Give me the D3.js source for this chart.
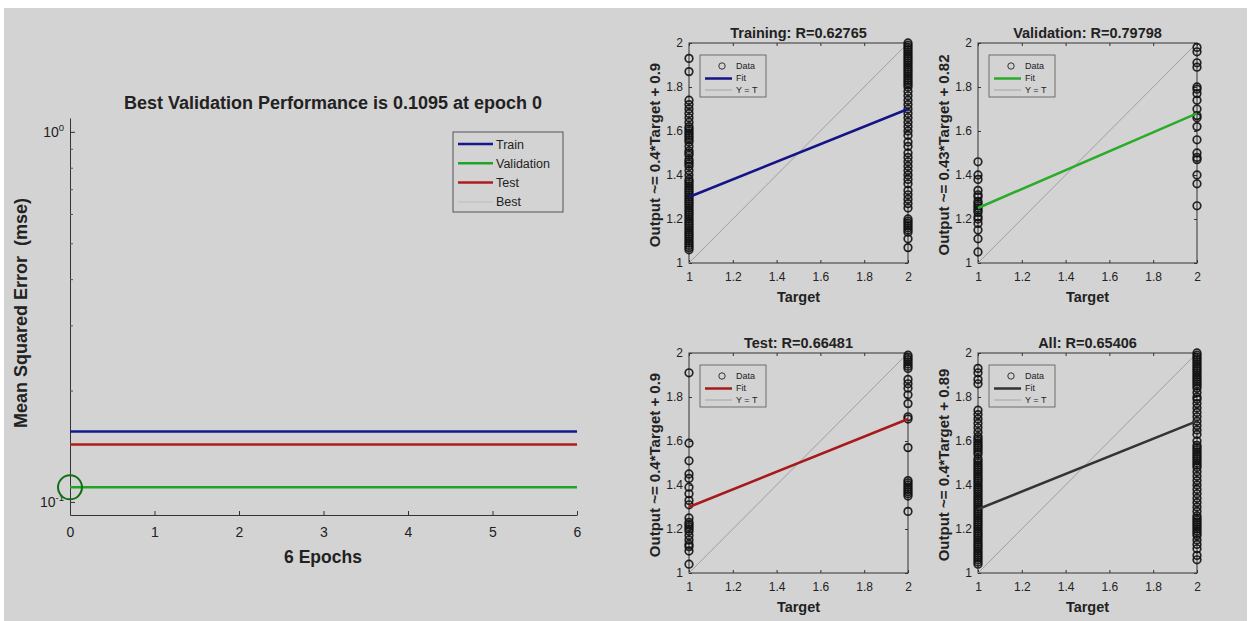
<!DOCTYPE html>
<html>
<head>
<meta charset="utf-8">
<script src="https://cdn.jsdelivr.net/npm/d3@7"></script>
<style>
body { margin: 0; background: #fff; }
text { font-family: "Liberation Sans", Arial, sans-serif; fill: #222; }
</style>
</head>
<body>
<svg id="chart" width="1252" height="621"></svg>
<script>
// performance plot
var epochs = [0, 1, 2, 3, 4, 5, 6];
var trainPerf = [0.155, 0.155, 0.155, 0.155, 0.155, 0.155, 0.155];
var validationPerf = [0.1095, 0.1095, 0.1095, 0.1095, 0.1095, 0.1095, 0.1095];
var testPerf = [0.143, 0.143, 0.143, 0.143, 0.143, 0.143, 0.143];
var bestEpoch = 0;
var bestPerf = 0.1095;
var perfNames = ["Train", "Validation", "Test", "Best"];

// regression plots
var panelTitles = ["Training: R=0.62765", "Validation: R=0.79798", "Test: R=0.66481", "All: R=0.65406"];
var panelYLabels = ["Output ~= 0.4*Target + 0.9", "Output ~= 0.43*Target + 0.82", "Output ~= 0.4*Target + 0.9", "Output ~= 0.4*Target + 0.89"];
var fitSlopes = [0.4, 0.43, 0.4, 0.4];
var fitIntercepts = [0.9, 0.82, 0.9, 0.89];
var targetTicks = [1, 1.2, 1.4, 1.6, 1.8, 2];

var trainingT1 = [1.93, 1.87, 1.74, 1.72, 1.70, 1.68, 1.66, 1.64, 1.62, 1.61, 1.60, 1.59, 1.58, 1.57, 1.56, 1.55, 1.53, 1.51, 1.50, 1.49, 1.47, 1.46, 1.45, 1.44, 1.42, 1.40, 1.38, 1.37, 1.36, 1.35, 1.34, 1.33, 1.32, 1.31, 1.30, 1.29, 1.28, 1.27, 1.26, 1.25, 1.24, 1.23, 1.22, 1.21, 1.20, 1.19, 1.18, 1.17, 1.16, 1.15, 1.14, 1.13, 1.12, 1.11, 1.10, 1.09, 1.08, 1.07, 1.06];
var trainingT2 = [2.00, 1.99, 1.98, 1.97, 1.96, 1.95, 1.94, 1.93, 1.92, 1.91, 1.90, 1.89, 1.88, 1.87, 1.86, 1.85, 1.84, 1.83, 1.82, 1.81, 1.80, 1.78, 1.76, 1.74, 1.72, 1.70, 1.68, 1.66, 1.64, 1.62, 1.60, 1.58, 1.55, 1.53, 1.50, 1.48, 1.46, 1.44, 1.42, 1.40, 1.38, 1.36, 1.33, 1.31, 1.29, 1.27, 1.25, 1.20, 1.19, 1.18, 1.17, 1.16, 1.15, 1.14, 1.11, 1.07];
var validationT1 = [1.46, 1.40, 1.38, 1.33, 1.31, 1.30, 1.28, 1.27, 1.26, 1.25, 1.24, 1.23, 1.21, 1.20, 1.18, 1.15, 1.11, 1.05];
var validationT2 = [1.98, 1.96, 1.91, 1.89, 1.80, 1.79, 1.77, 1.74, 1.70, 1.67, 1.66, 1.62, 1.56, 1.50, 1.48, 1.47, 1.40, 1.36, 1.26];
var testT1 = [1.91, 1.59, 1.51, 1.45, 1.43, 1.39, 1.36, 1.33, 1.31, 1.25, 1.23, 1.22, 1.21, 1.20, 1.19, 1.17, 1.15, 1.13, 1.12, 1.10, 1.04];
var testT2 = [1.99, 1.98, 1.97, 1.96, 1.95, 1.94, 1.93, 1.88, 1.86, 1.84, 1.81, 1.77, 1.71, 1.70, 1.57, 1.42, 1.41, 1.40, 1.39, 1.38, 1.37, 1.36, 1.35, 1.28];
var allT1 = [1.93, 1.91, 1.88, 1.86, 1.74, 1.72, 1.70, 1.68, 1.66, 1.64, 1.62, 1.61, 1.60, 1.59, 1.58, 1.57, 1.56, 1.55, 1.54, 1.52, 1.51, 1.50, 1.49, 1.48, 1.47, 1.46, 1.45, 1.44, 1.43, 1.42, 1.41, 1.40, 1.39, 1.38, 1.37, 1.36, 1.35, 1.34, 1.33, 1.32, 1.31, 1.30, 1.29, 1.28, 1.27, 1.26, 1.25, 1.24, 1.23, 1.22, 1.21, 1.20, 1.19, 1.18, 1.17, 1.16, 1.15, 1.14, 1.13, 1.12, 1.11, 1.10, 1.09, 1.08, 1.07, 1.06, 1.05, 1.04];
var allT2 = [2.00, 1.99, 1.98, 1.97, 1.96, 1.95, 1.94, 1.93, 1.92, 1.91, 1.90, 1.89, 1.88, 1.87, 1.86, 1.85, 1.84, 1.82, 1.80, 1.79, 1.77, 1.75, 1.73, 1.71, 1.69, 1.67, 1.65, 1.63, 1.60, 1.58, 1.57, 1.56, 1.55, 1.54, 1.53, 1.52, 1.51, 1.50, 1.49, 1.48, 1.46, 1.44, 1.42, 1.40, 1.38, 1.36, 1.34, 1.32, 1.30, 1.28, 1.26, 1.25, 1.24, 1.23, 1.22, 1.21, 1.20, 1.19, 1.18, 1.17, 1.15, 1.13, 1.11, 1.08, 1.06];

var bg = "#d3d3d3";
var perfColors = ["#101a8c", "#1fa525", "#b01c1c", "#bdbdbd"];
var fitColors = ["#141486", "#2aab2a", "#a81a1a", "#333333"];
var fontFam = "Liberation Sans, Arial, sans-serif";

var svg = d3.select("#chart");
svg.append("rect").attr("x", 4).attr("y", 8).attr("width", 1243).attr("height", 613).attr("fill", bg);

// ---------- left: performance ----------
var x = d3.scaleLinear().domain([0, 6]).range([70, 577]);
var y = d3.scaleLog().domain([0.0922, 1.09]).range([515, 118]);

var perf = svg.append("g");

perf.append("g")
    .attr("transform", "translate(0,515)")
    .call(d3.axisBottom(x).tickValues(epochs).tickSize(-4).tickSizeOuter(0).tickPadding(12).tickFormat(d3.format("d")))
    .call(function (g) {
        g.select(".domain").attr("stroke", "#333");
        g.selectAll(".tick line").attr("stroke", "#333");
        g.selectAll("text").attr("font-size", 14).attr("fill", "#333").attr("font-family", fontFam);
    });

perf.append("g")
    .attr("transform", "translate(70,0)")
    .call(d3.axisLeft(y).tickValues([0.1, 1]).tickSize(-5).tickSizeOuter(0).tickFormat(""))
    .call(function (g) {
        g.select(".domain").attr("stroke", "#333");
        g.selectAll(".tick line").attr("stroke", "#333");
    });

perf.append("g")
    .attr("transform", "translate(70,0)")
    .call(d3.axisLeft(y).tickValues([0.2, 0.3, 0.4, 0.5, 0.6, 0.7, 0.8, 0.9]).tickSize(-3).tickFormat(""))
    .call(function (g) {
        g.select(".domain").remove();
        g.selectAll(".tick line").attr("stroke", "#555");
    });

[[0.1, "-1"], [1, "0"]].forEach(function (t) {
    var lbl = perf.append("text")
        .attr("x", 64)
        .attr("y", y(t[0]) + 5)
        .attr("text-anchor", "end")
        .attr("font-size", 14)
        .attr("fill", "#333");
    lbl.append("tspan").text("10");
    lbl.append("tspan").attr("dy", -6).attr("font-size", 9.5).text(t[1]);
});

var perfLine = d3.line()
    .x(function (d, i) { return x(epochs[i]); })
    .y(function (d) { return y(d); });

[trainPerf, validationPerf, testPerf].forEach(function (series, i) {
    perf.append("path")
        .datum(series)
        .attr("d", perfLine)
        .attr("fill", "none")
        .attr("stroke", perfColors[i])
        .attr("stroke-width", 2.5);
});

perf.append("circle")
    .attr("cx", x(bestEpoch))
    .attr("cy", y(bestPerf))
    .attr("r", 12)
    .attr("fill", "none")
    .attr("stroke", "#0f6e14")
    .attr("stroke-width", 2);

perf.append("text")
    .attr("x", 333).attr("y", 109)
    .attr("text-anchor", "middle")
    .attr("font-size", 18).attr("font-weight", "bold")
    .text("Best Validation Performance is 0.1095 at epoch 0");

perf.append("text")
    .attr("x", 323).attr("y", 563)
    .attr("text-anchor", "middle")
    .attr("font-size", 17.5).attr("font-weight", "bold")
    .text("6 Epochs");

perf.append("text")
    .attr("transform", "translate(27,313) rotate(-90)")
    .attr("text-anchor", "middle")
    .attr("font-size", 18).attr("font-weight", "bold")
    .attr("xml:space", "preserve")
    .text("Mean Squared Error  (mse)");

var leg = perf.append("g").attr("transform", "translate(453,132)");
leg.append("rect").attr("width", 110).attr("height", 80).attr("fill", bg).attr("stroke", "#555");
perfNames.forEach(function (name, i) {
    var ly = 12 + i * 19.3;
    leg.append("line")
        .attr("x1", 5).attr("x2", 40).attr("y1", ly).attr("y2", ly)
        .attr("stroke", perfColors[i])
        .attr("stroke-width", i < 3 ? 2.5 : 1);
    leg.append("text")
        .attr("x", 43).attr("y", ly + 4.5)
        .attr("font-size", 12.5).attr("fill", "#333")
        .text(name);
});

// ---------- right: regression panels ----------
var panelData = [
    [trainingT1, trainingT2],
    [validationT1, validationT2],
    [testT1, testT2],
    [allT1, allT2]
];
var panelLefts = [689, 978];
var panelTops = [43, 353];
var pw = 219, ph = 220;

panelData.forEach(function (cols, i) {
    var left = panelLefts[i % 2];
    var top = panelTops[Math.floor(i / 2)];
    var xs = d3.scaleLinear().domain([1, 2]).range([left, left + pw]);
    var ys = d3.scaleLinear().domain([1, 2]).range([top + ph, top]);
    var p = svg.append("g");

    p.append("rect")
        .attr("x", left).attr("y", top).attr("width", pw).attr("height", ph)
        .attr("fill", bg).attr("stroke", "#333");

    // ticks, inward on all four sides
    p.append("g").attr("transform", "translate(0," + (top + ph) + ")")
        .call(d3.axisBottom(xs).tickValues(targetTicks).tickSize(-3).tickSizeOuter(0).tickPadding(9).tickFormat(d3.format("")))
        .call(styleSmall);
    p.append("g").attr("transform", "translate(0," + top + ")")
        .call(d3.axisTop(xs).tickValues(targetTicks).tickSize(-3).tickSizeOuter(0).tickFormat(""))
        .call(styleSmall);
    p.append("g").attr("transform", "translate(" + left + ",0)")
        .call(d3.axisLeft(ys).tickValues(targetTicks).tickSize(-3).tickSizeOuter(0).tickPadding(6).tickFormat(d3.format("")))
        .call(styleSmall);
    p.append("g").attr("transform", "translate(" + (left + pw) + ",0)")
        .call(d3.axisRight(ys).tickValues(targetTicks).tickSize(-3).tickSizeOuter(0).tickFormat(""))
        .call(styleSmall);

    // Y = T
    p.append("line")
        .attr("x1", xs(1)).attr("y1", ys(1)).attr("x2", xs(2)).attr("y2", ys(2))
        .attr("stroke", "#9a9a9a").attr("stroke-width", 0.9);

    // data circles
    [1, 2].forEach(function (t, k) {
        p.selectAll(null)
            .data(cols[k])
            .enter()
            .append("circle")
            .attr("cx", xs(t))
            .attr("cy", function (d) { return ys(d); })
            .attr("r", 3.8)
            .attr("fill", "none")
            .attr("stroke", "#111")
            .attr("stroke-opacity", 0.9)
            .attr("stroke-width", 1.7);
    });

    // fit
    p.append("line")
        .attr("x1", xs(1)).attr("y1", ys(fitSlopes[i] * 1 + fitIntercepts[i]))
        .attr("x2", xs(2)).attr("y2", ys(fitSlopes[i] * 2 + fitIntercepts[i]))
        .attr("stroke", fitColors[i]).attr("stroke-width", 2.5);

    // legend
    var lg = p.append("g").attr("transform", "translate(" + (left + 11) + "," + (top + 12) + ")");
    lg.append("rect").attr("width", 66).attr("height", 42).attr("fill", bg).attr("stroke", "#555").attr("stroke-width", 0.8);
    lg.append("circle").attr("cx", 22).attr("cy", 11).attr("r", 3.2).attr("fill", "none").attr("stroke", "#333");
    lg.append("line").attr("x1", 5).attr("x2", 32).attr("y1", 23.5).attr("y2", 23.5).attr("stroke", fitColors[i]).attr("stroke-width", 2.5);
    lg.append("line").attr("x1", 5).attr("x2", 32).attr("y1", 35).attr("y2", 35).attr("stroke", "#9a9a9a").attr("stroke-width", 0.8);
    ["Data", "Fit", "Y = T"].forEach(function (s, k) {
        lg.append("text")
            .attr("x", 36).attr("y", 14 + k * 12)
            .attr("font-size", 9).attr("fill", "#333")
            .text(s);
    });

    p.append("text")
        .attr("x", left + pw / 2).attr("y", top - 5)
        .attr("text-anchor", "middle")
        .attr("font-size", 14.5).attr("font-weight", "bold")
        .text(panelTitles[i]);
    p.append("text")
        .attr("x", left + pw / 2).attr("y", top + ph + 39)
        .attr("text-anchor", "middle")
        .attr("font-size", 14.5).attr("font-weight", "bold")
        .text("Target");
    p.append("text")
        .attr("transform", "translate(" + (left - 29) + "," + (top + ph / 2 + 2) + ") rotate(-90)")
        .attr("text-anchor", "middle")
        .attr("font-size", 15).attr("font-weight", "bold")
        .text(panelYLabels[i]);
});

function styleSmall(g) {
    g.select(".domain").remove();
    g.selectAll(".tick line").attr("stroke", "#333");
    g.selectAll("text").attr("font-size", 12).attr("fill", "#444").attr("font-family", fontFam);
}
</script>
</body>
</html>
